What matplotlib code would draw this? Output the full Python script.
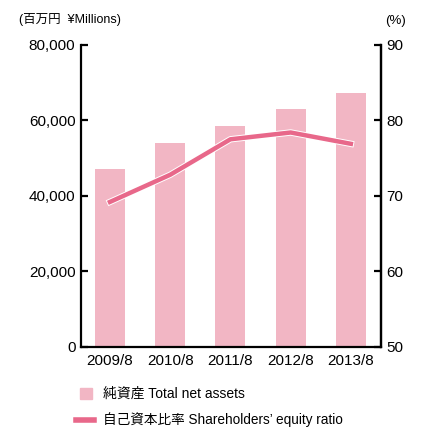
import matplotlib
matplotlib.use('Agg')
import matplotlib.pyplot as plt
import matplotlib.patheffects as pe
import numpy as np

plt.rcParams['font.family'] = ['Liberation Sans', 'Noto Sans CJK JP', 'DejaVu Sans']

years = ['2009/8', '2010/8', '2011/8', '2012/8', '2013/8']
net_assets = [47200, 53900, 58400, 62900, 67300]
equity_ratio = [69.2, 72.8, 77.5, 78.4, 76.9]

bar_color = '#f2b6c4'
line_color = '#e8688a'

fig = plt.figure(figsize=(4.31, 4.32), dpi=100)
ax = fig.add_axes([0.188, 0.197, 0.696, 0.699])
x = np.arange(len(years))
ax.bar(x, net_assets, width=0.5, color=bar_color, zorder=2)
ax.set_xlim(-0.48, 4.5)
ax.set_ylim(0, 80000)
ax.set_yticks([0, 20000, 40000, 60000, 80000])
ax.set_yticklabels([f'{v:,}' for v in [0, 20000, 40000, 60000, 80000]])
ax.set_xticks(x)
ax.set_xticklabels(years)

ax2 = ax.twinx()
ax2.plot(x, equity_ratio, color=line_color, lw=3.2, zorder=3,
         path_effects=[pe.Stroke(linewidth=4.6, foreground='white'), pe.Normal()])
ax2.set_ylim(50, 90)
ax2.set_yticks([50, 60, 70, 80, 90])

for a in (ax, ax2):
    a.spines['top'].set_visible(False)
    for s in ('left', 'right', 'bottom'):
        a.spines[s].set_linewidth(1.6)
    a.tick_params(axis='y', direction='in', length=5, width=1.6, labelsize=11, pad=4)
    a.tick_params(axis='x', length=0, labelsize=11, pad=5)
ax2.spines['left'].set_visible(False)
ax2.spines['bottom'].set_visible(False)

fig.text(0.045, 0.955, '(百万円  ¥Millions)', fontsize=9, ha='left', va='center')
fig.text(0.893, 0.952, '(%)', fontsize=9.5, ha='left', va='center')

# legend drawn by hand at the bottom
fig.patches.append(plt.Rectangle((0.185, 0.077), 0.028, 0.026, transform=fig.transFigure,
                                 color=bar_color, figure=fig))
fig.text(0.238, 0.089, '純資産 Total net assets', fontsize=10, ha='left', va='center')
fig.lines.append(plt.Line2D([0.176, 0.217], [0.028, 0.028], transform=fig.transFigure,
                            color=line_color, lw=4, figure=fig))
fig.text(0.238, 0.028, '自己資本比率 Shareholders\u2019 equity ratio', fontsize=9.8,
         ha='left', va='center')

fig.savefig('out.png', dpi=100)
